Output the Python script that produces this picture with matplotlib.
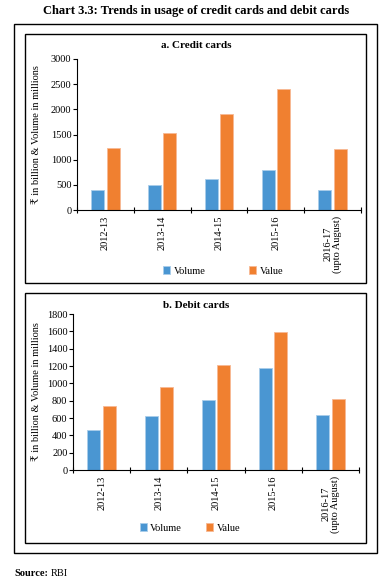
import matplotlib.pyplot as plt
import numpy as np
from matplotlib.patches import Rectangle

years = ["2012-13", "2013-14", "2014-15", "2015-16", "2016-17\n(upto August)"]
credit_volume = [392, 505, 618, 791, 392]
credit_value = [1230, 1536, 1901, 2407, 1217]
debit_volume = [464, 618, 810, 1178, 630]
debit_value = [741, 956, 1213, 1593, 818]

blue = "#4a96d2"
orange = "#f08030"
serif = ["Liberation Serif", "DejaVu Serif", "DejaVu Sans"]
plt.rcParams['font.family'] = serif

W, H = 392, 586
fig = plt.figure(figsize=(W / 100, H / 100), dpi=100)


def px(x0, y0, x1, y1):
    # pixel box (top-left origin) -> figure fraction rect
    return [x0 / W, 1 - y1 / H, (x1 - x0) / W, (y1 - y0) / H]


def box(x0, y0, x1, y1):
    fig.patches.append(Rectangle((x0 / W, 1 - y1 / H), (x1 - x0) / W, (y1 - y0) / H,
                                 transform=fig.transFigure, fill=False,
                                 edgecolor="black", linewidth=1.0))


fig.text(196 / W, 1 - 11 / H, "Chart 3.3: Trends in usage of credit cards and debit cards",
         ha="center", va="center", fontsize=9, fontweight="bold")
box(14, 24, 377, 553)
box(25, 34, 366, 283)
box(25, 293, 366, 543)
fig.text(14 / W, 1 - 573 / H, "Source:", ha="left", va="center", fontsize=7.5, fontweight="bold")
fig.text(51 / W, 1 - 573 / H, "RBI", ha="left", va="center", fontsize=7.5)


def panel(rect, vol, val, ymax, step, title, title_y, leg_x, leg_y, ylab_x, colsp):
    ax = fig.add_axes(rect)
    x = np.arange(len(years))
    w = 0.23
    off = 0.135
    ax.bar(x - off, vol, w, color=blue, edgecolor="#a9cdea", linewidth=0.6, label="Volume")
    ax.bar(x + off, val, w, color=orange, edgecolor="#f7b994", linewidth=0.6, label="Value")
    ax.set_xlim(-0.5, len(years) - 0.5)
    ax.set_ylim(0, ymax)
    ax.set_yticks(np.arange(0, ymax + 1, step))
    ax.set_xticks(np.arange(-0.5, len(years), 1.0))
    ax.set_xticklabels([])
    ax.set_xticks(x, minor=True)
    ax.set_xticklabels(years, minor=True, rotation=90, fontsize=7.5, va="top", ha="center",
                       linespacing=1.0)
    ax.tick_params(axis="x", which="minor", length=0, pad=4)
    ax.tick_params(axis="x", which="major", length=4, width=0.8, direction="inout")
    ax.tick_params(axis="y", length=3, width=0.8, labelsize=7.5, pad=1)
    for s in ["top", "right"]:
        ax.spines[s].set_visible(False)
    ax.spines["left"].set_linewidth(0.8)
    ax.spines["bottom"].set_linewidth(0.8)
    fig.text(196 / W, 1 - title_y / H, title, ha="center", va="center",
             fontsize=8, fontweight="bold")
    fig.text(ylab_x / W, (rect[1] + rect[3] / 2), "₹ in billion & Volume in millions",
             rotation=90, ha="center", va="center", fontsize=7.5, family=serif)
    fig.legend(*ax.get_legend_handles_labels(), loc="center",
               bbox_to_anchor=(leg_x / W, 1 - leg_y / H), ncol=2, frameon=False,
               fontsize=7.5, handlelength=0.7, handleheight=0.7, handletextpad=0.3,
               columnspacing=colsp)
    return ax


panel(px(77, 59, 361, 210), credit_volume, credit_value, 3000, 500,
      "a. Credit cards", 46, 223, 271, 37, 4.2)
panel(px(73, 314, 359, 470), debit_volume, debit_value, 1800, 200,
      "b. Debit cards", 306, 190, 528, 37, 2.3)

fig.savefig("out.png", dpi=100)
